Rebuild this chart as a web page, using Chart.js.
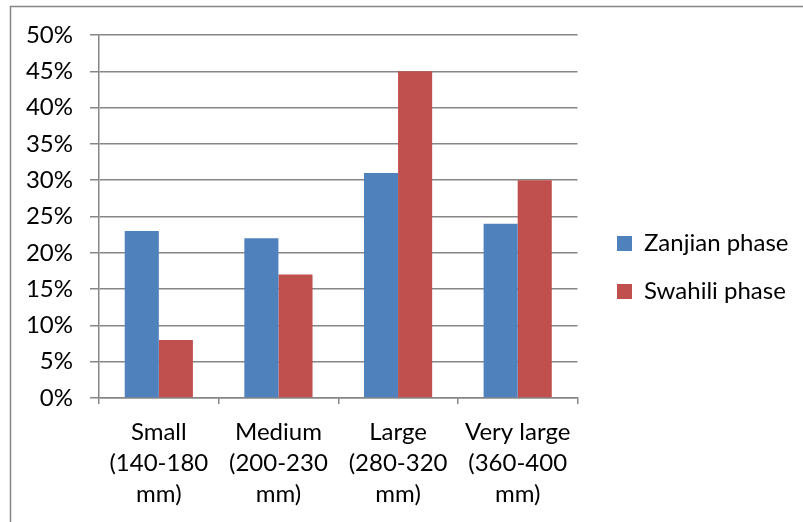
<!DOCTYPE html>
<html>
<head>
<meta charset="utf-8">
<script src="https://cdn.jsdelivr.net/npm/chart.js@4.4.0/dist/chart.umd.min.js"></script>
<style>
  html, body { margin: 0; padding: 0; background: #fff; }
  #wrap { position: relative; width: 803px; height: 522px; }
</style>
</head>
<body>
<div id="wrap"><canvas id="chart" width="803" height="522"></canvas></div>
<script>
// Shell-size classes (each label is split into lines)
const categories = [
  ['Small', '(140-180', 'mm)'],
  ['Medium', '(200-230', 'mm)'],
  ['Large', '(280-320', 'mm)'],
  ['Very large', '(360-400', 'mm)']
];
// Share of each size class, in percent
const zanjianPhase = [23, 22, 31, 24];
const swahiliPhase = [8, 17, 45, 30];
const seriesNames = ['Zanjian phase', 'Swahili phase'];
const yTickMin = 0, yTickMax = 50, yTickStep = 5;

const FONT = 'Lato, Carlito, Calibri, sans-serif';
const FONT_SIZE = 24;
const GRID = '#868686';
const LINE_W = 1.5;

// Legend geometry: the legend box starts LEGEND_LEFT px from the left edge
const LEGEND_LEFT = 593;
const LEGEND_PAD = 24, LEGEND_BOX = 15;
const PLOT_RIGHT = 577.5;

// Width of the longest legend label, so the legend can be anchored on its left side
const measureCtx = document.createElement('canvas').getContext('2d');
measureCtx.font = FONT_SIZE + 'px ' + FONT;
const labelWidth = Math.max(...seriesNames.map(n => measureCtx.measureText(n).width));
const legendWidth = LEGEND_PAD + LEGEND_BOX + FONT_SIZE / 2 + labelWidth + 10;
const rightPad = Math.max(0, 803 - LEGEND_LEFT - legendWidth);

// White background plus the outer frame of the chart object
const framePlugin = {
  id: 'frame',
  beforeDraw(chart) {
    const ctx = chart.ctx;
    ctx.save();
    ctx.fillStyle = '#fff';
    ctx.fillRect(0, 0, chart.width, chart.height);
    ctx.strokeStyle = GRID;
    ctx.lineWidth = 1.5;
    ctx.beginPath();
    ctx.moveTo(10.5, chart.height);
    ctx.lineTo(10.5, 6.5);
    ctx.lineTo(chart.width, 6.5);
    ctx.stroke();
    ctx.restore();
  }
};

// Empty spacer axes used only to reserve room around the plot area
const spacer = (position, sizeFn) => ({
  type: 'linear',
  position,
  display: true,
  grid: { display: false },
  border: { display: false },
  ticks: { display: false },
  afterFit(s) { const v = sizeFn(s); if (s.isHorizontal()) s.height = v; else s.width = v; }
});

new Chart(document.getElementById('chart'), {
  type: 'bar',
  data: {
    labels: categories,
    datasets: [
      { label: seriesNames[0], data: zanjianPhase, backgroundColor: '#4F81BD', xAxisID: 'x', yAxisID: 'y' },
      { label: seriesNames[1], data: swahiliPhase, backgroundColor: '#C0504D', xAxisID: 'x', yAxisID: 'y' }
    ]
  },
  options: {
    responsive: false,
    animation: false,
    devicePixelRatio: 1,
    layout: { padding: { left: 0, top: 13, right: rightPad, bottom: 0 } },
    datasets: { bar: { categoryPercentage: 0.57, barPercentage: 1.0 } },
    plugins: {
      tooltip: { enabled: false },
      legend: {
        position: 'right',
        maxWidth: 1000,
        labels: {
          boxWidth: LEGEND_BOX,
          boxHeight: LEGEND_BOX,
          padding: LEGEND_PAD,
          color: '#000',
          font: { family: FONT, size: FONT_SIZE }
        }
      }
    },
    scales: {
      x: {
        offset: true,
        grid: { offset: true, drawOnChartArea: false, drawTicks: true, tickLength: 6, color: GRID, lineWidth: LINE_W },
        border: { display: true, color: GRID, width: LINE_W },
        ticks: { color: '#000', padding: 12.5, maxRotation: 0, autoSkip: false,
                 font: { family: FONT, size: FONT_SIZE, lineHeight: 31 / FONT_SIZE } },
        afterFit(s) { s.height = 124; }
      },
      y: {
        min: yTickMin, max: yTickMax,
        grid: { color: GRID, lineWidth: LINE_W, drawTicks: true, tickLength: 9 },
        border: { display: true, color: GRID, width: LINE_W },
        ticks: { stepSize: yTickStep, color: '#000', padding: 17,
                 font: { family: FONT, size: FONT_SIZE },
                 callback: v => v + '%' },
        afterFit(s) { s.width = 99; }
      },
      gapRight: spacer('right', s => {
        const lg = s.chart.legend;
        const left = lg && lg.width ? 803 - rightPad - lg.width : LEGEND_LEFT;
        return Math.max(0, left - PLOT_RIGHT);
      }),
      gapTop: spacer('top', () => 22)
    }
  },
  plugins: [framePlugin]
});
</script>
</body>
</html>
